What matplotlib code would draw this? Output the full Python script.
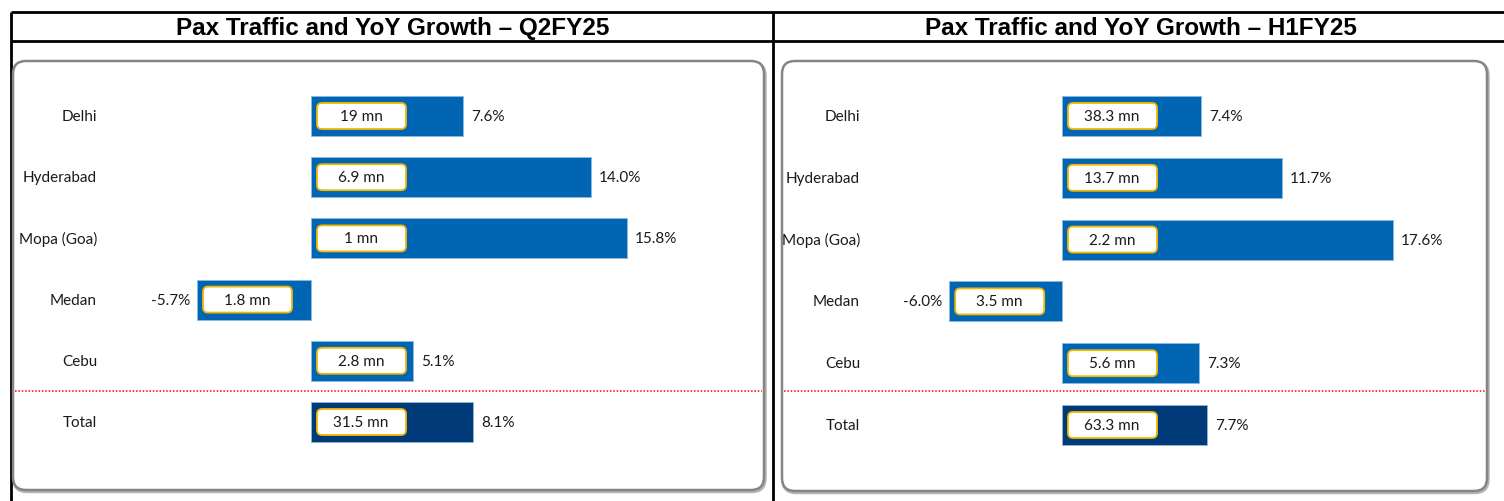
import matplotlib
matplotlib.use("Agg")
import matplotlib.pyplot as plt
from matplotlib.patches import FancyBboxPatch
import matplotlib.transforms as mtransforms

# ---------------- data ----------------
categories = ["Delhi", "Hyderabad", "Mopa (Goa)", "Medan", "Cebu", "Total"]
q2_growth = [7.6, 14.0, 15.8, -5.7, 5.1, 8.1]
q2_traffic = ["19 mn", "6.9 mn", "1 mn", "1.8 mn", "2.8 mn", "31.5 mn"]
h1_growth = [7.4, 11.7, 17.6, -6.0, 7.3, 7.7]
h1_traffic = ["38.3 mn", "13.7 mn", "2.2 mn", "3.5 mn", "5.6 mn", "63.3 mn"]
titles = ["Pax Traffic and YoY Growth \u2013 Q2FY25", "Pax Traffic and YoY Growth \u2013 H1FY25"]

BAR = "#0066B3"
TOTAL = "#003A78"
GOLD = "#F5B800"
LABEL_FONT = ["Lato", "DejaVu Sans"]

W, H = 1504, 502
fig = plt.figure(figsize=(W / 100, H / 100), dpi=100)

# background axes in pixel coordinates
bg = fig.add_axes([0, 0, 1, 1])
bg.set_xlim(0, W)
bg.set_ylim(H, 0)
bg.axis("off")

# table lines
lk = dict(color="black", lw=2, solid_capstyle="butt")
bg.plot([11, W], [13, 13], **lk)
bg.plot([11, W], [42, 42], **lk)
bg.plot([11, 11], [13, H], **lk)
bg.plot([773, 773], [13, H], **lk)

title_x = [393, 1141]
for t, x in zip(titles, title_x):
    bg.text(x, 28.5, t, ha="center", va="center", fontsize=17.5, fontweight="bold",
            family=["Liberation Sans", "DejaVu Sans"])

panels = [
    dict(box=(13, 62, 764, 491), zero=311, scale=20.0, c0=117, sp=61.2,
         growth=q2_growth, traffic=q2_traffic, label_x=97, sep=392),
    dict(box=(782, 62, 1487, 492), zero=1062, scale=18.8, c0=117, sp=61.8,
         growth=h1_growth, traffic=h1_traffic, label_x=860, sep=392),
]

for p in panels:
    x0, y0, x1, y1 = p["box"]
    # shadow + rounded frame
    bg.add_patch(FancyBboxPatch((x0 + 1, y0 + 1.5), x1 - x0, y1 - y0,
                                boxstyle="round,pad=0,rounding_size=13",
                                fc="none", ec="#b5b5b5", lw=2.5, zorder=1))
    bg.add_patch(FancyBboxPatch((x0, y0), x1 - x0, y1 - y0,
                                boxstyle="round,pad=0,rounding_size=13",
                                fc="white", ec="#858585", lw=1.8, zorder=2))

    ax = fig.add_axes([x0 / W, 1 - y1 / H, (x1 - x0) / W, (y1 - y0) / H])
    ax.patch.set_alpha(0)
    ax.axis("off")
    ax.set_xlim((x0 - p["zero"]) / p["scale"], (x1 - p["zero"]) / p["scale"])
    ax.set_ylim((y1 - p["c0"]) / p["sp"], (y0 - p["c0"]) / p["sp"])

    n = len(categories)
    rows = list(range(n))
    colors = [BAR] * (n - 1) + [TOTAL]
    bar_h = 40 / p["sp"]
    ax.barh(rows, p["growth"], height=bar_h, color=colors, edgecolor="#8fb8dd",
            linewidth=0.6, zorder=2)

    lx = (p["label_x"] - p["zero"]) / p["scale"]
    for i, (cat, g, tr) in enumerate(zip(categories, p["growth"], p["traffic"])):
        ax.text(lx, i, cat, ha="right", va="center", fontsize=11,
                family=LABEL_FONT, color="#1a1a1a")
        # growth label
        if g >= 0:
            ax.annotate(f"{g:.1f}%", (g, i), xytext=(8, 0), textcoords="offset pixels",
                        ha="left", va="center", fontsize=11, family=LABEL_FONT,
                        color="#1a1a1a")
        else:
            ax.annotate(f"{g:.1f}%", (g, i), xytext=(-7, 0), textcoords="offset pixels",
                        ha="right", va="center", fontsize=11, family=LABEL_FONT,
                        color="#1a1a1a")
        # traffic box
        start = min(0, g)
        tr_t = mtransforms.ScaledTranslation(start, i, ax.transData)
        box = FancyBboxPatch((6, -13), 89, 26, boxstyle="round,pad=0,rounding_size=5",
                             fc="white", ec=GOLD, lw=1.3, transform=tr_t, zorder=3,
                             clip_on=False)
        ax.add_patch(box)
        ax.annotate(tr, (start, i), xytext=(50, 0), textcoords="offset pixels",
                    ha="center", va="center", fontsize=11, family=LABEL_FONT,
                    color="#1a1a1a", zorder=4)

    sep_y = (p["sep"] - p["c0"]) / p["sp"]
    ax.axhline(sep_y, xmin=0.003, xmax=0.997, color="#ff0000", lw=1.1,
               linestyle=(0, (1, 1.2)), zorder=1)

fig.savefig("out.png", dpi=100)
